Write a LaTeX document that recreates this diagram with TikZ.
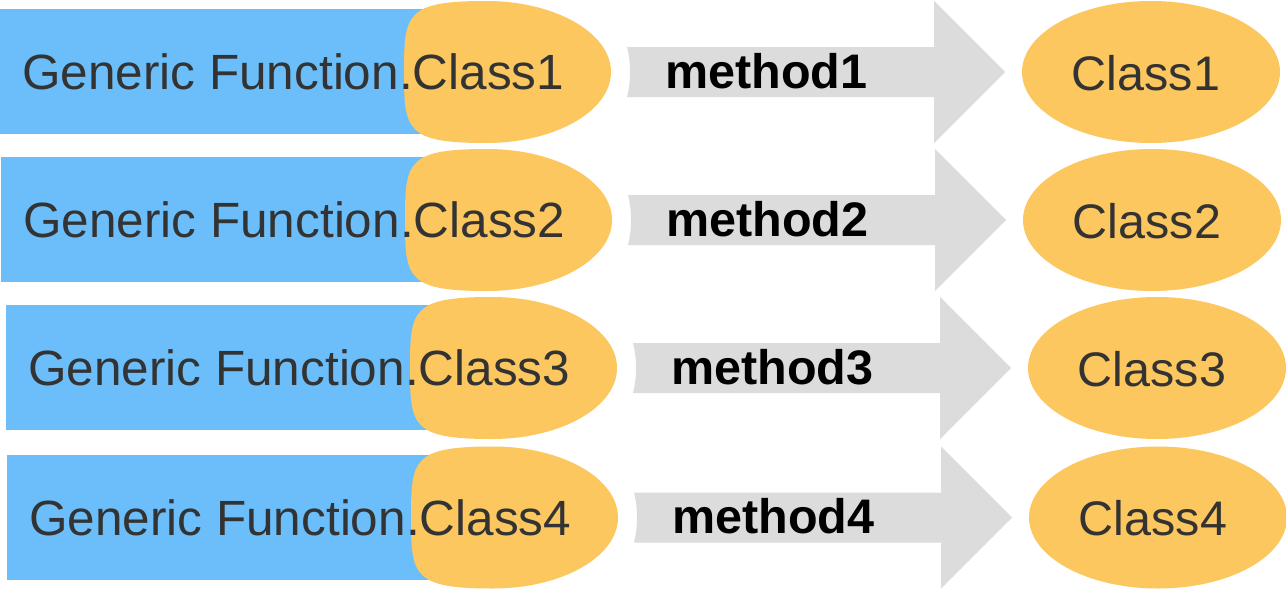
\documentclass[tikz,border=0pt]{standalone}
\usepackage{fontspec}
\setmainfont{Liberation Sans}
\usetikzlibrary{shapes.geometric,calc}
\definecolor{gfblue}{RGB}{107,190,249}
\definecolor{clsorange}{RGB}{252,199,95}
\definecolor{arrgray}{RGB}{220,220,220}
\definecolor{txtgray}{RGB}{51,51,51}
\tikzset{
  bluebox/.style={rectangle, fill=gfblue, inner sep=0pt, outer sep=0pt, anchor=north west},
  orangeshape/.style={fill=clsorange},
  bigarrow/.style={fill=arrgray},
  clsellipse/.style={ellipse, fill=clsorange, inner sep=0pt, outer sep=0pt, minimum width=258pt, minimum height=142pt},
  gftext/.style={anchor=base west, inner sep=0pt, text=txtgray, font=\fontsize{49.5}{58}\selectfont},
  clstext/.style={anchor=base, inner sep=0pt, text=txtgray, font=\fontsize{48.5}{58}\selectfont},
  methtext/.style={anchor=base west, inner sep=0pt, text=black, font=\fontsize{48.5}{58}\selectfont\bfseries}
}
\begin{document}
\begin{tikzpicture}[x=1pt,y=-1pt]
\useasboundingbox (0,0) rectangle (1286,589);
\fill[white] (0,0) rectangle (1286,589);
\clip (0,0) rectangle (1286,589);
\foreach \i/\dx/\cy in {1/0/72, 2/1/220, 3/6/368, 4/7/517.5}{
  % blue generic-function box
  \node[bluebox, minimum width={486pt+\dx pt}, minimum height=125pt] (blue\i) at (\dx,\cy-63) {};
  % orange left class shape (blunt on the left)
  \coordinate (peak\i) at (486+\dx,\cy);
  \path[orangeshape] ($(peak\i)+(0,-71)$)
     .. controls ($(peak\i)+(-80,-71)$) and ($(peak\i)+(-82,-58)$) .. ($(peak\i)+(-82,0)$)
     .. controls ($(peak\i)+(-82,58)$) and ($(peak\i)+(-80,71)$) .. ($(peak\i)+(0,71)$)
     .. controls ($(peak\i)+(69,71)$) and ($(peak\i)+(125,39.2)$) .. ($(peak\i)+(125,0)$)
     .. controls ($(peak\i)+(125,-39.2)$) and ($(peak\i)+(69,-71)$) .. ($(peak\i)+(0,-71)$) -- cycle;
  \node[gftext] (gf\i) at (22+\dx,\cy+17.5) {Generic Function.Class\i};
  % right class ellipse
  \node[clsellipse] (cls\i) at (1151+\dx,\cy) {};
  \node[clstext] (clst\i) at (1146+\dx,\cy+18) {Class\i};
  % big block arrow
  \coordinate (as\i) at (627+\dx,\cy);
  \coordinate (ah\i) at (934+\dx,\cy);
  \coordinate (at\i) at (1005+\dx,\cy);
  \path[bigarrow] ($(as\i)+(0,-25)$) -- ($(ah\i)+(0,-25)$) -- ($(ah\i)+(0,-71)$) -- (at\i)
     -- ($(ah\i)+(0,71)$) -- ($(ah\i)+(0,25)$) -- ($(as\i)+(0,25)$)
     .. controls ($(as\i)+(4,10)$) and ($(as\i)+(4,-10)$) .. ($(as\i)+(0,-25)$) -- cycle;
  \node[methtext] (m\i) at (665+\dx,\cy+16) {method\i};
}
\end{tikzpicture}
\end{document}
